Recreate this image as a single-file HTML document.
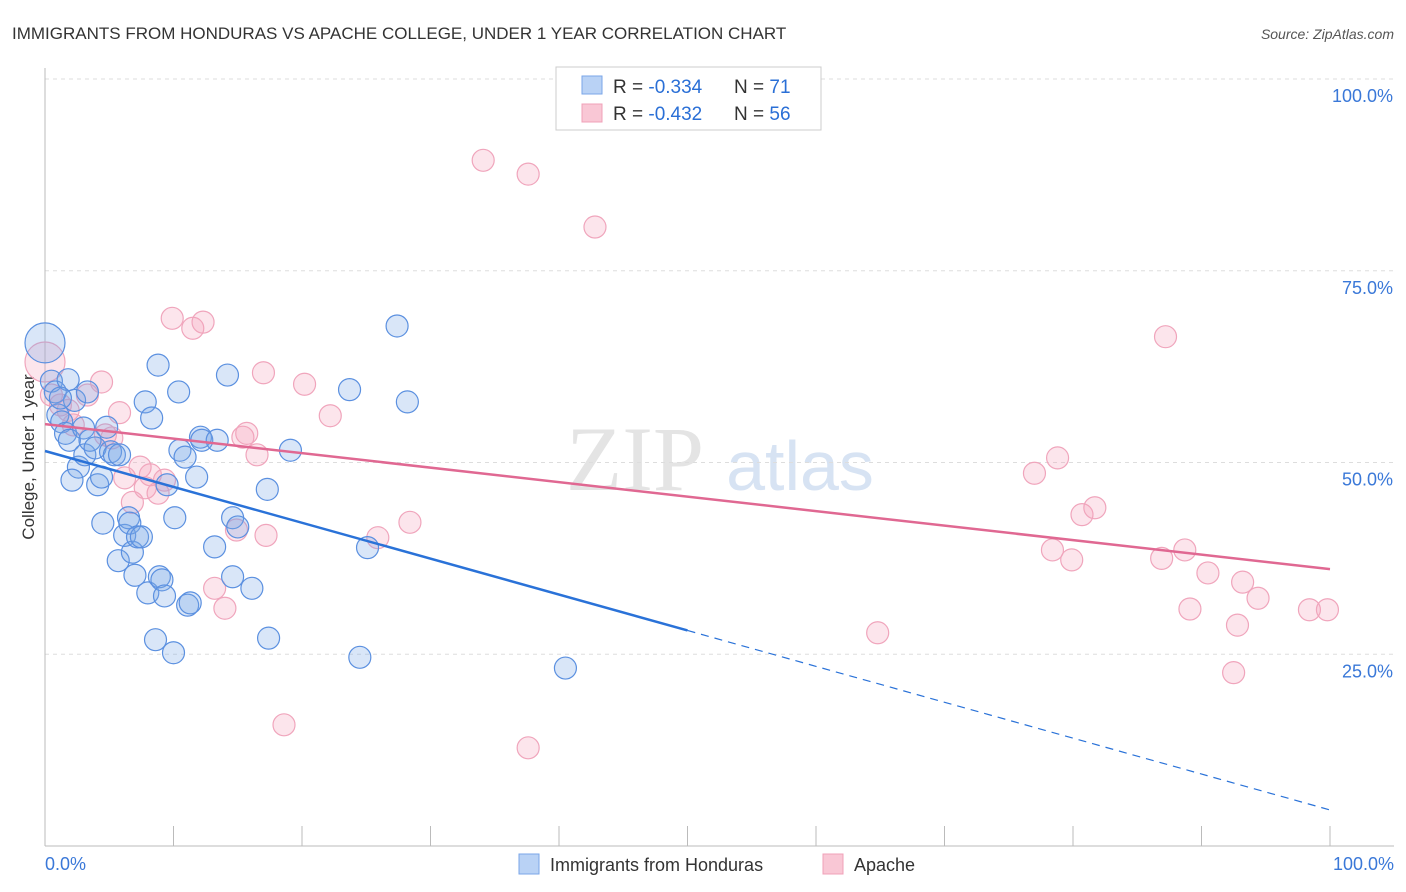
<!DOCTYPE html>
<html><head><meta charset="utf-8"><style>
body{margin:0;background:#fff;font-family:"Liberation Sans",sans-serif}
svg{display:block}
</style></head><body>
<svg id="chart" width="1406" height="892">
<text x="12" y="39" font-size="17" fill="#333">IMMIGRANTS FROM HONDURAS VS APACHE COLLEGE, UNDER 1 YEAR CORRELATION CHART</text>
<text x="1394" y="39" font-size="14" fill="#555" font-style="italic" text-anchor="end">Source: ZipAtlas.com</text>
<g><text x="635" y="490" font-size="92" fill="#e4e4e4" font-family="Liberation Serif" text-anchor="middle">ZIP</text><text x="800" y="490" font-size="70" fill="#d7e3f3" text-anchor="middle">atlas</text></g>
<text transform="translate(34,457) rotate(-90)" font-size="17" fill="#333" text-anchor="middle">College, Under 1 year</text>
<g id="grid"></g><g id="marks"></g>
<g>
<rect x="556" y="67" width="265" height="63" fill="#fff" stroke="#ccc"/>
<rect x="582" y="76" width="20" height="18" fill="#b9d2f5" stroke="#7aa6e8"/>
<rect x="582" y="104" width="20" height="18" fill="#f9c7d5" stroke="#f0a0b8"/>
<text x="613" y="93" font-size="19" fill="#333">R = <tspan fill="#2a6fd6">-0.334</tspan></text>
<text x="734" y="93" font-size="19" fill="#333">N = <tspan fill="#2a6fd6"> 71</tspan></text>
<text x="613" y="120" font-size="19" fill="#333">R = <tspan fill="#2a6fd6">-0.432</tspan></text>
<text x="734" y="120" font-size="19" fill="#333">N = <tspan fill="#2a6fd6">56</tspan></text>
</g>
<g>
<rect x="519" y="854" width="20" height="20" fill="#b9d2f5" stroke="#7aa6e8"/>
<text x="550" y="871" font-size="18" fill="#333">Immigrants from Honduras</text>
<rect x="823" y="854" width="20" height="20" fill="#f9c7d5" stroke="#f0a0b8"/>
<text x="854" y="871" font-size="18" fill="#333">Apache</text>
</g>
</svg>
<script>
const yTicks=[100,75,50,25];
const yTickLabels=["100.0%","75.0%","50.0%","25.0%"];
const xTicks=[0,10,20,30,40,50,60,70,80,90,100];
const blueX=[0,0.5,0.8,1.0,1.3,1.6,1.9,2.3,2.6,3.0,3.1,3.3,3.5,3.9,4.1,4.4,4.5,4.8,5.1,5.4,5.7,5.8,6.2,6.5,6.6,6.8,7.0,7.2,7.5,7.8,8.0,8.3,8.6,8.8,8.9,9.1,9.3,9.5,10.0,10.1,10.4,10.5,10.9,11.1,11.3,11.8,12.1,12.2,13.2,13.4,14.2,14.6,14.6,15.0,16.1,17.3,17.4,19.1,23.7,24.5,25.1,27.4,28.2,40.5,1.8,1.2,2.1];
const blueY=[65.6,60.6,59.2,56.2,55.3,53.8,52.9,58.1,49.4,54.5,51.0,59.2,52.9,51.9,47.1,48.1,42.1,54.6,51.4,51.0,37.2,51.0,40.5,42.8,42.1,38.3,35.3,40.3,40.3,57.9,33.0,55.8,26.9,62.7,35.1,34.7,32.6,47.1,25.2,42.8,59.2,51.6,50.7,31.4,31.7,48.1,53.3,52.9,39.0,52.9,61.4,42.8,35.1,41.6,33.6,46.5,27.1,51.6,59.5,24.6,38.9,67.8,57.9,23.2,60.8,58.4,47.7];
const pinkX=[0,0.5,1.2,1.8,2.2,3.3,4.4,4.7,5.2,5.8,6.2,6.8,7.4,7.8,8.2,8.8,9.9,11.5,12.3,13.2,14.0,14.9,15.4,15.7,16.5,17.0,17.2,18.6,20.2,22.2,25.9,28.4,34.1,37.6,37.6,42.8,64.8,77.0,78.4,78.8,79.9,80.7,81.7,86.9,87.2,88.7,89.1,90.5,92.8,92.5,93.2,94.4,98.4,99.8,9.3];
const pinkY=[63.1,58.8,57.5,56.8,54.9,58.8,60.5,53.6,53.2,56.5,48.0,44.8,49.4,46.7,48.4,46.0,68.8,67.5,68.3,33.6,31.0,41.2,53.3,53.8,51.0,61.7,40.5,15.8,60.2,56.1,40.2,42.2,89.4,87.6,12.8,80.7,27.8,48.6,38.6,50.6,37.3,43.2,44.1,37.5,66.4,38.6,30.9,35.6,28.8,22.6,34.4,32.3,30.8,30.8,47.7];
const blueTrend=[51.5,4.7];
const pinkTrend=[55.0,36.1];
const NS="http://www.w3.org/2000/svg";
const sx=v=>45+v*12.85, sy=v=>846-v*7.67;
function mk(t,a,p){const e=document.createElementNS(NS,t);for(const k in a)e.setAttribute(k,a[k]);p.appendChild(e);return e;}
const grid=document.getElementById('grid'),marks=document.getElementById('marks');
yTicks.forEach((t,i)=>{
 const l=mk('line',{x1:45,x2:1394,y1:sy(t),y2:sy(t),stroke:'#ddd','stroke-dasharray':'4,4'},grid);
 
 
 const tx=mk('text',{x:1393,y:sy(t)+23,'font-size':18,fill:'#3a78d8','text-anchor':'end'},grid);
 tx.textContent=yTickLabels[i];
 
 
});
const ax=mk('line',{x1:45,x2:1394,y1:846,y2:846,stroke:'#bbb'},grid);


const ay=mk('line',{x1:45,x2:45,y1:68,y2:846,stroke:'#bbb'},grid);


xTicks.forEach(t=>{
 const l=mk('line',{x1:sx(t),x2:sx(t),y1:826,y2:846,stroke:'#bbb'},grid);
 
 
});
[[0,'0.0%','start',45],[100,'100.0%','end',1394]].forEach(d=>{
 const t=mk('text',{x:d[3],y:870,'font-size':18,fill:'#3a78d8','text-anchor':d[2]},grid);
 t.textContent=d[1];
 
 
});
function pts(X,Y,fill,stroke,name){X.forEach((x,i)=>{
 const c=mk('circle',{cx:sx(x),cy:sy(Y[i]),r:(i===0?20:11),fill:fill,stroke:stroke,'stroke-width':1.2},marks);
 
 
});}
pts(pinkX,pinkY,'rgba(245,160,185,0.28)','#f0a5bc','apache-point');
pts(blueX,blueY,'rgba(120,165,230,0.28)','#5b90e0','honduras-point');
const bl=mk('line',{x1:sx(0),y1:sy(blueTrend[0]),x2:sx(50),y2:sy(blueTrend[0]+(blueTrend[1]-blueTrend[0])*0.5),stroke:'#2a72d8','stroke-width':2.5},marks);


const bd=mk('line',{x1:sx(50),y1:sy(blueTrend[0]+(blueTrend[1]-blueTrend[0])*0.5),x2:sx(100),y2:sy(blueTrend[1]),stroke:'#2a72d8','stroke-width':1.2,'stroke-dasharray':'8,6'},marks);


const pl=mk('line',{x1:sx(0),y1:sy(pinkTrend[0]),x2:sx(100),y2:sy(pinkTrend[1]),stroke:'#e06892','stroke-width':2.5},marks);


</script>
</body></html>
